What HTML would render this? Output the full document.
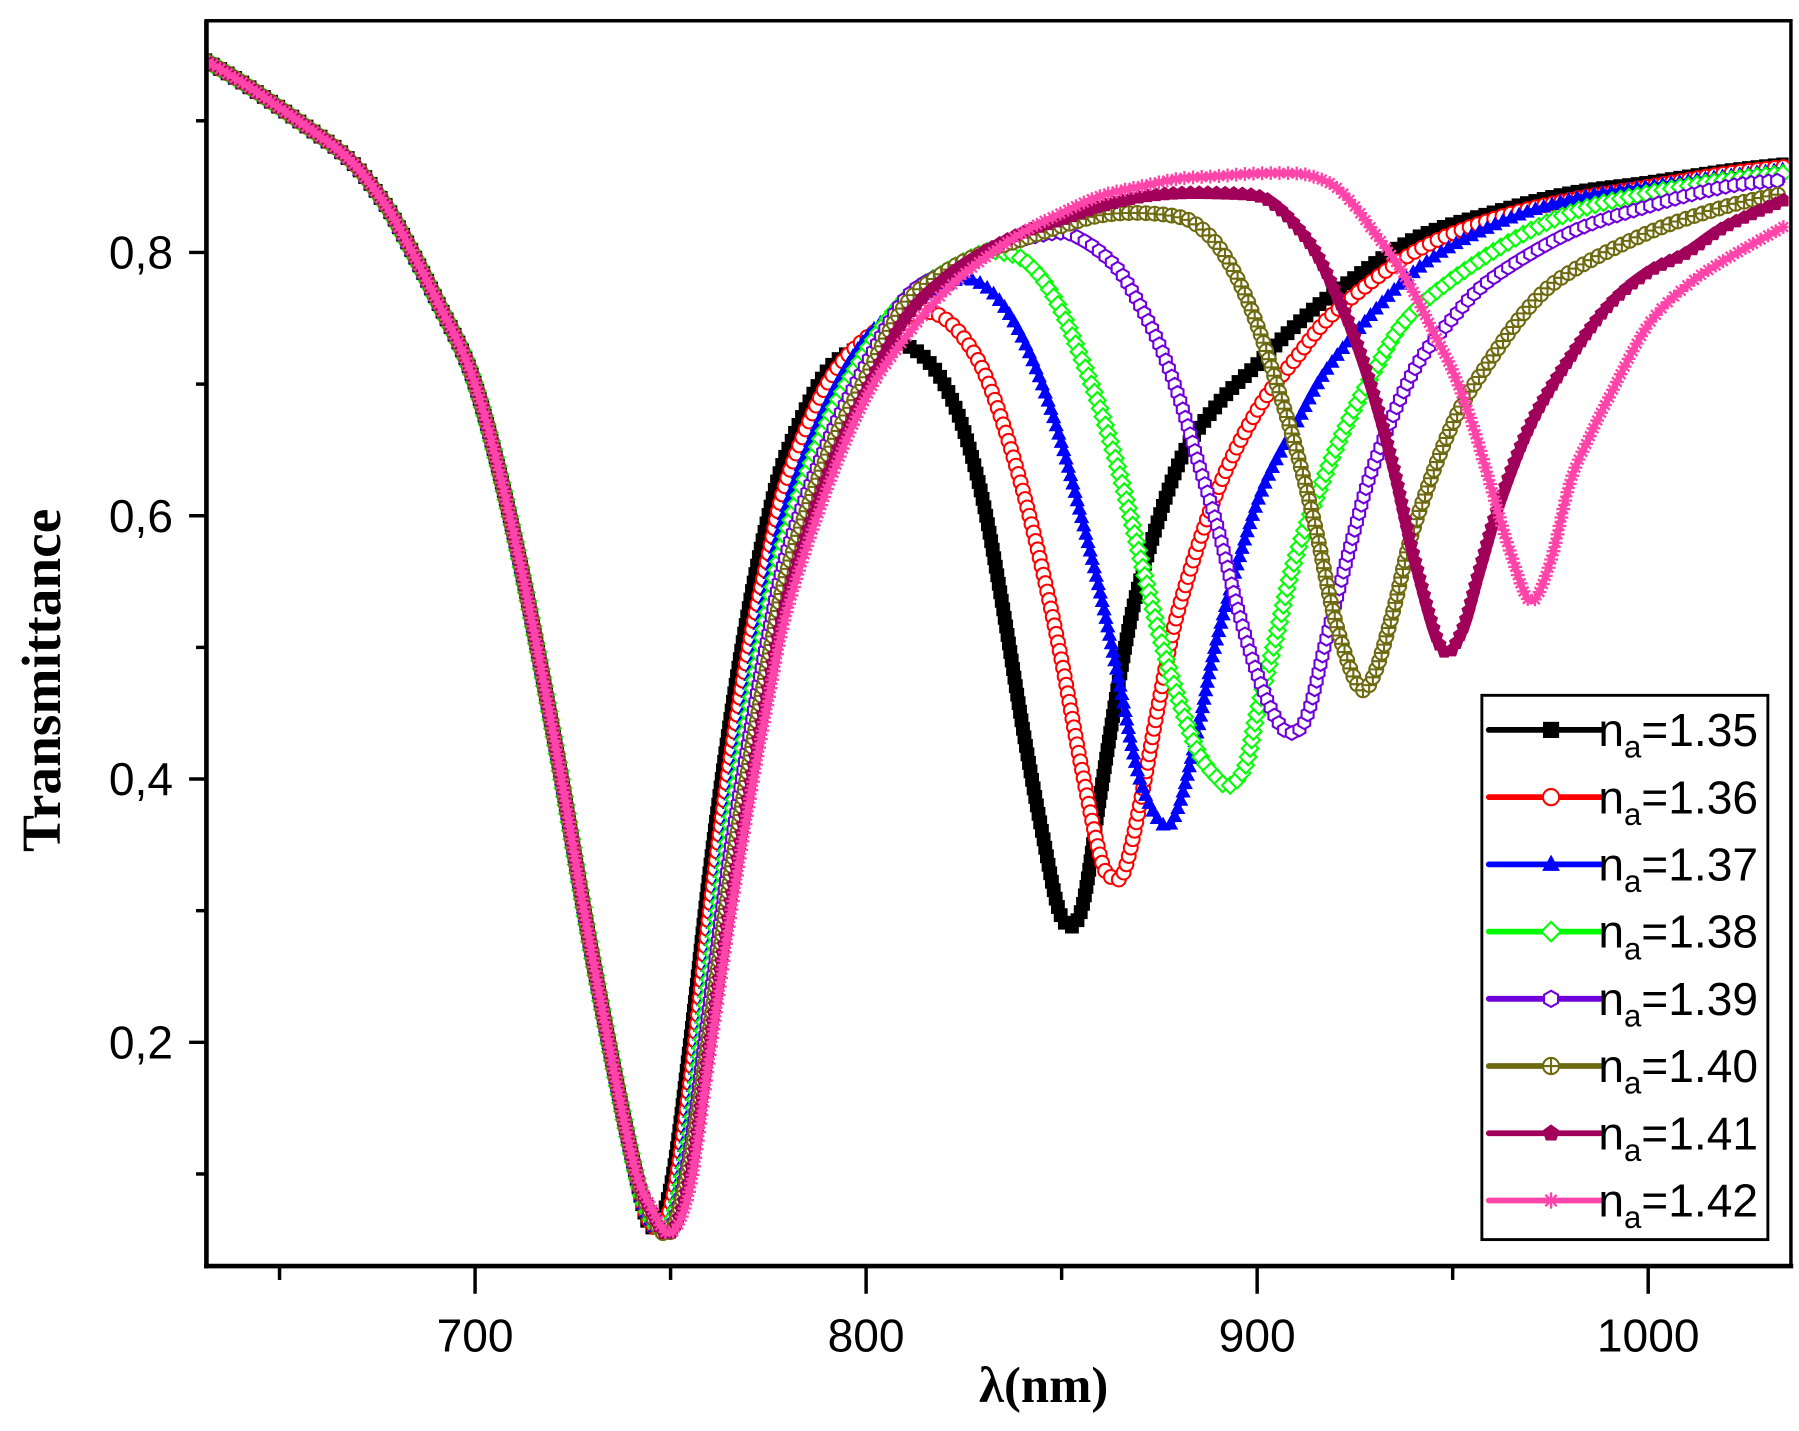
<!DOCTYPE html>
<html><head><meta charset="utf-8"><style>
html,body{margin:0;padding:0;background:#fff;}
svg{display:block;}
</style></head><body>
<svg id="chart" width="1799" height="1431" viewBox="0 0 1560 1241" preserveAspectRatio="none" xmlns="http://www.w3.org/2000/svg">
<defs><clipPath id="plotclip"><rect x="181" y="20" width="1370" height="1078"/></clipPath></defs>
<g id="curves" clip-path="url(#plotclip)"></g>
<g id="axes"></g>
<g id="legend"></g>
<text x="905" y="1216" text-anchor="middle" font-family="Liberation Serif, serif" font-weight="bold" font-size="44">λ(nm)</text>
<text transform="translate(52,590) rotate(-90)" text-anchor="middle" font-family="Liberation Serif, serif" font-weight="bold" font-size="48">Transmittance</text>
</svg>
<script>
const xTicks=[700,800,900,1000];
const xMinor=[650,750,850,950];
const yTicks=[0.2,0.4,0.6,0.8];
const yTickLabels=["0,2","0,4","0,6","0,8"];
const yMinor=[0.1,0.3,0.5,0.7,0.9];
const seriesNames=["na=1.35","na=1.36","na=1.37","na=1.38","na=1.39","na=1.40","na=1.41","na=1.42"];
const legendLabels=["1.35","1.36","1.37","1.38","1.39","1.40","1.41","1.42"];

const wlCommon=[631,640,650,660,665,670,675,680,690,700,710,720,730,740];
const tCommon=[.946,.93,.91,.889,.878,.864,.845,.822,.765,.70,.585,.435,.265,.115];

const wl135=[745,750,755,760,765,770,775,780,790,800,805,810,815,820,825,830,835,840,845,850,855,860,865,870,880,890,900,910,920,940,960,980,1000,1020,1035];
const t135=[.06,.09,.2,.33,.44,.53,.6,.65,.71,.73,.735,.73,.72,.70,.665,.61,.53,.44,.36,.295,.30,.39,.48,.55,.64,.685,.715,.745,.77,.81,.83,.845,.853,.862,.867];
const wl136=[745,750,755,760,765,770,775,780,790,800,810,815,820,825,830,835,840,845,850,855,860,863,866,870,875,880,890,900,910,920,940,960,980,1000,1020,1035];
const t136=[.062,.075,.17,.30,.41,.50,.57,.63,.70,.735,.75,.755,.75,.735,.71,.67,.62,.56,.49,.41,.34,.325,.33,.38,.46,.53,.62,.68,.72,.755,.80,.825,.84,.85,.86,.865];
const wl137=[745,750,755,760,765,770,775,780,790,800,810,820,825,830,835,840,845,850,855,860,865,870,876,880,885,890,900,910,920,940,960,980,1000,1020,1035];
const t137=[.064,.068,.15,.27,.38,.47,.55,.61,.685,.735,.76,.775,.78,.775,.76,.735,.70,.655,.60,.54,.47,.40,.365,.38,.44,.51,.61,.67,.72,.785,.82,.84,.85,.858,.863];
const wl138=[745,750,755,760,765,770,775,780,790,800,810,820,830,835,840,845,850,855,860,865,870,875,880,885,890,893,897,900,905,910,920,930,940,960,980,1000,1020,1035];
const t138=[.066,.062,.13,.25,.36,.45,.53,.59,.67,.725,.765,.785,.80,.80,.795,.78,.755,.72,.68,.63,.57,.51,.46,.42,.40,.395,.41,.45,.51,.57,.65,.71,.755,.80,.83,.845,.855,.86];
const wl139=[745,750,755,760,765,770,775,780,790,800,810,820,830,840,850,855,860,865,870,875,880,885,890,895,900,905,909,913,918,925,930,940,950,960,980,1000,1020,1035];
const t139=[.068,.058,.12,.23,.34,.43,.51,.575,.655,.715,.765,.785,.80,.81,.815,.81,.80,.785,.76,.73,.69,.64,.59,.53,.48,.445,.435,.45,.51,.59,.64,.71,.75,.78,.815,.835,.85,.855];
const wl140=[745,750,755,760,765,770,775,780,790,800,810,820,830,840,850,860,870,880,885,890,895,900,905,910,915,920,926,930,935,940,950,960,970,980,1000,1020,1035];
const t140=[.07,.056,.11,.21,.32,.41,.49,.56,.645,.705,.76,.785,.80,.81,.82,.828,.83,.827,.82,.805,.78,.745,.70,.65,.59,.52,.47,.48,.53,.59,.67,.72,.76,.785,.815,.835,.845];
const wl141=[745,750,755,760,765,770,775,780,790,800,810,820,830,840,850,860,870,880,890,900,905,910,915,920,925,930,935,940,947,952,957,962,970,980,990,1000,1010,1020,1035];
const t141=[.072,.055,.10,.20,.30,.39,.47,.54,.63,.695,.75,.78,.80,.815,.825,.835,.842,.845,.845,.843,.835,.82,.80,.77,.735,.69,.635,.57,.50,.51,.56,.61,.67,.72,.76,.785,.80,.82,.84];
const wl142=[745,750,755,760,765,770,775,780,790,800,810,820,830,840,850,860,870,880,890,900,910,915,920,925,930,935,940,945,950,955,960,965,970,975,980,985,990,1000,1010,1020,1035];
const t142=[.075,.055,.09,.19,.29,.38,.46,.53,.62,.69,.735,.77,.795,.815,.83,.843,.85,.856,.858,.86,.86,.857,.85,.835,.815,.795,.77,.74,.71,.67,.62,.57,.535,.565,.625,.66,.69,.745,.775,.795,.82];

const seriesWl=[wl135,wl136,wl137,wl138,wl139,wl140,wl141,wl142];
const seriesT=[t135,t136,t137,t138,t139,t140,t141,t142];
const colors=["#000000","#ff0000","#0000ff","#00ff00","#6f00dc","#6e6a10","#a0005a","#ff44aa"];
const markers=["square","circle","triangle","diamond","hexagon","crosscircle","pentagon","star"];

const NS="http://www.w3.org/2000/svg";
const X0=179,X1=1553,Y0=18,Y1=1098;
const xMin=631.3,xMax=1036.5,yMin=0.03,yMax=0.976;
function xs(v){return X0+(v-xMin)/(xMax-xMin)*(X1-X0);}
function ys(v){return Y1-(v-yMin)/(yMax-yMin)*(Y1-Y0);}
function mk(tag,attrs,parent){const e=document.createElementNS(NS,tag);for(const k in attrs)e.setAttribute(k,attrs[k]);parent.appendChild(e);return e;}

function markerShape(type,x,y,c,parent,s){
  s=s||6;let e;
  if(type==="square")e=mk("rect",{x:x-s,y:y-s,width:2*s,height:2*s,fill:c},parent);
  else if(type==="circle")e=mk("circle",{cx:x,cy:y,r:s,fill:"#fff",stroke:c,"stroke-width":1.8},parent);
  else if(type==="triangle")e=mk("polygon",{points:`${x},${y-s*1.2} ${x-s*1.1},${y+s*0.8} ${x+s*1.1},${y+s*0.8}`,fill:c},parent);
  else if(type==="diamond")e=mk("polygon",{points:`${x},${y-s*1.2} ${x+s*1.2},${y} ${x},${y+s*1.2} ${x-s*1.2},${y}`,fill:"#fff",stroke:c,"stroke-width":1.8},parent);
  else if(type==="hexagon"){let p=[];for(let i=0;i<6;i++){const a=Math.PI/3*i+Math.PI/6;p.push((x+s*Math.cos(a))+","+(y+s*Math.sin(a)));}e=mk("polygon",{points:p.join(" "),fill:"#fff",stroke:c,"stroke-width":1.8},parent);}
  else if(type==="crosscircle"){e=mk("g",{},parent);mk("circle",{cx:x,cy:y,r:s,fill:"#fff",stroke:c,"stroke-width":1.8},e);mk("path",{d:`M${x-s} ${y}H${x+s}M${x} ${y-s}V${y+s}`,stroke:c,"stroke-width":1.8},e);}
  else if(type==="pentagon"){let p=[];for(let i=0;i<5;i++){const a=-Math.PI/2+2*Math.PI/5*i;p.push((x+s*1.1*Math.cos(a))+","+(y+s*1.1*Math.sin(a)));}e=mk("polygon",{points:p.join(" "),fill:c},parent);}
  else {e=mk("path",{d:`M${x-s} ${y}H${x+s}M${x} ${y-s}V${y+s}M${x-s*.7} ${y-s*.7}L${x+s*.7} ${y+s*.7}M${x-s*.7} ${y+s*.7}L${x+s*.7} ${y-s*.7}`,stroke:c,"stroke-width":2,fill:"none"},parent);}
  return e;
}

function smoothPath(pts){
  let d=`M${pts[0][0]},${pts[0][1]}`;
  for(let i=0;i<pts.length-1;i++){
    const p0=pts[Math.max(0,i-1)],p1=pts[i],p2=pts[i+1],p3=pts[Math.min(pts.length-1,i+2)];
    const c1x=p1[0]+(p2[0]-p0[0])/6,c1y=p1[1]+(p2[1]-p0[1])/6;
    const c2x=p2[0]-(p3[0]-p1[0])/6,c2y=p2[1]-(p3[1]-p1[1])/6;
    d+=` C${c1x},${c1y} ${c2x},${c2y} ${p2[0]},${p2[1]}`;
  }
  return d;
}

const curves=document.getElementById("curves");
for(let i=0;i<8;i++){
  const g=mk("g",{},curves);
  
  
  const wl=wlCommon.concat(seriesWl[i]),tt=tCommon.concat(seriesT[i]);
  const pts=wl.map((w,j)=>[xs(w),ys(tt[j])]);
  const path=mk("path",{d:smoothPath(pts),fill:"none",stroke:colors[i],"stroke-width":5,"stroke-linejoin":"round"},g);
  
  
  const L=path.getTotalLength();
  const mg=mk("g",{},g);
  
  
  for(let l=0;l<=L;l+=7.5){const p=path.getPointAtLength(l);markerShape(markers[i],p.x,p.y,colors[i],mg,6);}
}

const axes=document.getElementById("axes");
mk("rect",{x:X0,y:Y0,width:X1-X0,height:Y1-Y0,fill:"none",stroke:"#000","stroke-width":3},axes);
mk("line",{x1:X0,y1:Y0-1,x2:X0,y2:Y1+2,stroke:"#000","stroke-width":4},axes);
mk("line",{x1:X0-2,y1:Y1,x2:X1+2,y2:Y1,stroke:"#000","stroke-width":4},axes);
xTicks.forEach(v=>{
  const l=mk("line",{x1:xs(v),y1:Y1,x2:xs(v),y2:Y1+24,stroke:"#000","stroke-width":3},axes);
  
  const t=mk("text",{x:xs(v),y:1172,"text-anchor":"middle","font-family":"Liberation Sans, sans-serif","font-size":40},axes);
  
  t.textContent=v;
});
xMinor.forEach(v=>{const l=mk("line",{x1:xs(v),y1:Y1,x2:xs(v),y2:Y1+12,stroke:"#000","stroke-width":3},axes);
  });
yTicks.forEach((v,i)=>{
  const l=mk("line",{x1:X0-15,y1:ys(v),x2:X0,y2:ys(v),stroke:"#000","stroke-width":3},axes);
  
  const t=mk("text",{x:150,y:ys(v)+14,"text-anchor":"end","font-family":"Liberation Sans, sans-serif","font-size":40},axes);
  
  t.textContent=yTickLabels[i];
});
yMinor.forEach(v=>{const l=mk("line",{x1:X0-9,y1:ys(v),x2:X0,y2:ys(v),stroke:"#000","stroke-width":3},axes);
  });

const legend=document.getElementById("legend");
const box=mk("rect",{x:1285,y:603,width:248,height:472,fill:"#fff",stroke:"#000","stroke-width":2.5},legend);

for(let i=0;i<8;i++){
  const y=633+i*58.3;
  const g=mk("g",{},legend);
  
  
  mk("line",{x1:1291,y1:y,x2:1388,y2:y,stroke:colors[i],"stroke-width":5,"stroke-linecap":"round"},g);
  markerShape(markers[i],1345,y,colors[i],g,7);
  const t=mk("text",{x:1386,y:y+14,"font-family":"Liberation Sans, sans-serif","font-size":40},g);
  t.innerHTML='n<tspan font-size="27" dy="10">a</tspan><tspan dy="-10">='+legendLabels[i]+'</tspan>';
}
</script>
</body></html>
